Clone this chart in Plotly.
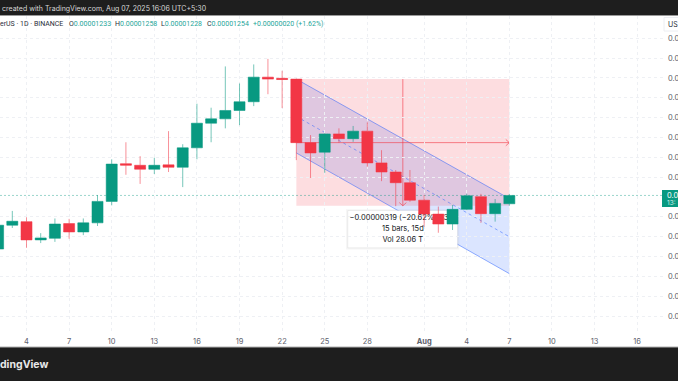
import plotly.graph_objects as go

# Prices are in units of 0.00000001
dates = ["2025-07-%02d" % d for d in range(2, 32)] + ["2025-08-%02d" % d for d in range(1, 8)]
opens = [1119,1179,1188,1142,1146,1183,1162,1185,1239,1334,1330,1320,1331,1325,1374,1436,1447,1468,1490,1552,1549,1547,1387,1363,1409,1397,1416,1336,1313,1286,1242,1207,1182,1219,1251,1208,1233]
highs = [1190,1215,1199,1159,1196,1195,1196,1255,1345,1388,1353,1349,1416,1383,1485,1475,1579,1536,1584,1598,1568,1548,1406,1410,1423,1429,1438,1368,1318,1318,1255,1226,1230,1258,1258,1245,1258]
lows = [1111,1172,1122,1134,1137,1145,1154,1177,1229,1306,1283,1308,1313,1275,1345,1388,1423,1431,1479,1509,1474,1343,1298,1311,1387,1389,1326,1290,1227,1238,1175,1160,1167,1217,1185,1188,1228]
closes = [1179,1189,1142,1147,1182,1162,1185,1239,1333,1330,1320,1330,1325,1374,1436,1447,1468,1490,1552,1547,1546,1387,1361,1409,1397,1416,1336,1313,1286,1242,1207,1182,1219,1253,1208,1234,1254]

UNIT = 1e-8
y_ticks = [1650,1600,1550,1500,1450,1400,1350,1300,1200,1150,1100,1050,1000,950]
x_tick_dates = ["2025-07-04","2025-07-07","2025-07-10","2025-07-13","2025-07-16","2025-07-19","2025-07-22","2025-07-25","2025-07-28","2025-08-01","2025-08-04","2025-08-07","2025-08-10","2025-08-13","2025-08-16"]
x_tick_text = ["4","7","10","13","16","19","22","25","28","<b>Aug</b>","4","7","10","13","16"]

box_start, box_end = "2025-07-23", "2025-08-07"
box_top, box_bottom, box_entry = 1547, 1228, 1387
measure_x = "2025-07-30 12:00"
channel_upper = [1547, 1246]
channel_mid = [1453, 1150]
channel_lower = [1361, 1057]
last_price = 1254

UP, DOWN = "#089981", "#f23645"
W, H = 678, 381
ML, MT, MR, MB = 0, 16, 15, 49
YR = [910, 1706]
XR = ["2025-07-02 03:12", "2025-08-17 19:41"]
FONT = "Inter, sans-serif"
FONT2 = "Roboto, sans-serif"

p = lambda v: v * UNIT
px = lambda x: x / (W - ML - MR)
py = lambda y: 1 - (y - MT) / (H - MT - MB)

fig = go.Figure()

# tooltip text sits on the main axes, so the candles (overlay axes) cover it
fig.add_trace(go.Scatter(
    x=[measure_x] * 3, y=[p(1196), p(1168), p(1141)], mode="text",
    text=["−0.00000319 (−20.62%) −319", "15 bars, 15d", "Vol 28.06 T"],
    textfont=dict(family=FONT, size=7.5, color="#131722"),
    hoverinfo="skip", showlegend=False))

fig.add_trace(go.Candlestick(
    x=dates, open=[p(v) for v in opens], high=[p(v) for v in highs],
    low=[p(v) for v in lows], close=[p(v) for v in closes],
    xaxis="x2", yaxis="y2", whiskerwidth=0, showlegend=False,
    increasing=dict(fillcolor=UP, line=dict(color="rgba(8,153,129,0.55)", width=1)),
    decreasing=dict(fillcolor=DOWN, line=dict(color="rgba(242,54,69,0.55)", width=1))))

shapes = []
def data_shape(**k):
    shapes.append(dict(xref="x", yref="y", layer="below", **k))

# parallel channel fill
data_shape(type="path",
           path=f"M{box_start},{p(channel_upper[0]):.8f} L{box_end},{p(channel_upper[1]):.8f} "
                f"L{box_end},{p(channel_lower[1]):.8f} L{box_start},{p(channel_lower[0]):.8f} Z",
           fillcolor="rgba(41,98,255,0.17)", line_width=0)
# position box
data_shape(type="rect", x0=box_start, x1=box_end, y0=p(box_bottom), y1=p(box_top),
           fillcolor="rgba(242,54,69,0.17)", line_width=0)
for arr, dash in ((channel_upper, "solid"), (channel_lower, "solid"), (channel_mid, "3px,3px")):
    data_shape(type="line", x0=box_start, x1=box_end, y0=p(arr[0]), y1=p(arr[1]),
               line=dict(color="rgba(41,98,255,0.5)", width=1, dash=dash))
# entry arrow
RED = "rgba(242,54,69,0.6)"
data_shape(type="path",
           path=f"M{box_start},{p(box_entry):.8f} L{box_end},{p(box_entry):.8f} "
                f"M2025-08-06_18:00,{p(box_entry+8):.8f} L{box_end},{p(box_entry):.8f} L2025-08-06_18:00,{p(box_entry-8):.8f}",
           line=dict(color=RED, width=1))
# measure arrow
data_shape(type="path",
           path=f"M{measure_x.replace(' ', '_')},{p(box_top):.8f} L{measure_x.replace(' ', '_')},{p(box_bottom):.8f} "
                f"M2025-07-30_06:00,{p(box_bottom+8):.8f} L{measure_x.replace(' ', '_')},{p(box_bottom):.8f} L2025-07-30_18:00,{p(box_bottom+8):.8f}",
           line=dict(color=RED, width=1))
# last price line
data_shape(type="line", x0=XR[0], x1=XR[1], y0=p(last_price), y1=p(last_price),
           line=dict(color="rgba(8,153,129,0.4)", width=1, dash="2px,2px"))
# tooltip box with soft edge
data_shape(type="rect", x0="2025-07-26 12:00", x1="2025-08-03 11:30", y0=p(1118), y1=p(1219),
           fillcolor="rgba(0,0,0,0.04)", line_width=0)
data_shape(type="rect", x0="2025-07-26 15:00", x1="2025-08-03 08:30", y0=p(1122), y1=p(1216),
           fillcolor="white", line=dict(color="rgba(0,0,0,0.06)", width=1))

def paper_rect(x0, y0, x1, y1, color, border=None):
    shapes.append(dict(type="rect", xref="paper", yref="paper", layer="above",
                       x0=px(x0), x1=px(x1), y0=py(y0), y1=py(y1), fillcolor=color,
                       line=dict(color=border or color, width=1 if border else 0)))
paper_rect(0, 0, W, 15, "#1e1e1e")
paper_rect(0, 15, W, 16, "#9a9a9a")
paper_rect(0, 347, W, H, "#1e1e1e")
paper_rect(0, 346.5, W, 347.5, "#b0b0b0")
paper_rect(662, 190, W, 207, UP)
paper_rect(664, 17.5, W + 2, 31, "white", "#eceef2")

def label(x, y, text, size=7, color="#131722", family=FONT):
    return dict(xref="paper", yref="paper", x=px(x), y=py(y), text=text, showarrow=False,
                xanchor="left", yanchor="middle", align="left", borderpad=0, borderwidth=0,
                font=dict(family=family, size=size, color=color))

G = "#26a69a"
annotations = [
    label(2, 8.5, "created with TradingView.com, Aug 07, 2025 16:06 UTC+5:30", 7, "#d8d8d8"),
    label(0, 23.5, "erUS · 1D · BINANCE", 7, "#2a2e39", FONT2),
    label(69, 23.5, f"O<span style='color:{G}'>0.00001233</span>", 7, "#2a2e39", FONT2),
    label(115, 23.5, f"H<span style='color:{G}'>0.00001258</span>", 7, "#2a2e39", FONT2),
    label(161, 23.5, f"L<span style='color:{G}'>0.00001228</span>", 7, "#2a2e39", FONT2),
    label(207, 23.5, f"C<span style='color:{G}'>0.00001254</span>", 7, "#2a2e39", FONT2),
    label(253, 23.5, "+0.00000020 (+1.62%)", 7, G, FONT2),
    label(0, 364, "<b>dingView</b>", 10.5, "#e8e8e8"),
    label(668, 24, "US", 7, "#2a2e39"),
    label(667, 195, "0.0", 7.5, "white"),
    label(667, 203, "13:", 6.5, "#d5efe9"),
]

grid = dict(showgrid=True, gridcolor="#eef0f4", griddash="dot", gridwidth=1, zeroline=False, showline=False, automargin=False)
fig.update_layout(
    width=W, height=H, margin=dict(l=ML, r=MR, t=MT, b=MB), autosize=False,
    paper_bgcolor="white", plot_bgcolor="white", showlegend=False, hovermode=False,
    boxgap=0.225, boxgroupgap=0, shapes=shapes, annotations=annotations,
    xaxis=dict(type="date", range=XR, tickmode="array", tickvals=x_tick_dates, ticktext=x_tick_text,
               tickangle=0, ticks="", ticklabelstandoff=3, rangeslider=dict(visible=False),
               tickfont=dict(family=FONT, size=7.5, color="#5d606b"), **grid),
    yaxis=dict(side="right", range=[p(v) for v in YR], tickmode="array", tickvals=[p(v) for v in y_ticks],
               ticktext=["0.0"] * len(y_ticks), ticks="", ticklabelstandoff=4,
               tickfont=dict(family=FONT, size=7.5, color="#5d606b"), **grid),
    xaxis2=dict(type="date", range=XR, overlaying="x", visible=False, rangeslider=dict(visible=False), automargin=False),
    yaxis2=dict(range=[p(v) for v in YR], overlaying="y", visible=False, side="right", automargin=False),
)

fig.write_html("out.html", config=dict(displayModeBar=False),
               post_script="document.body.style.margin='0';document.body.style.overflow='hidden';")
